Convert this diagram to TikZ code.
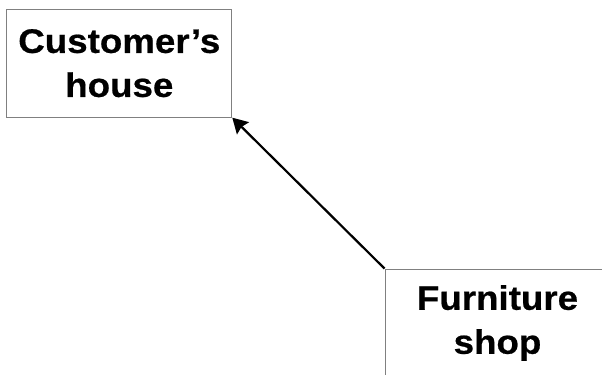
\documentclass[tikz,border=0pt]{standalone}
\usepackage{fontspec}
\setmainfont{Liberation Sans}
\newfontfamily\boxfont[FakeStretch=1.08, FakeBold=0.6]{Liberation Sans Bold}
\usetikzlibrary{arrows.meta}
\tikzset{
  place/.style={draw=black!50, line width=1bp, minimum width=225bp, minimum height=108bp,
    inner sep=0pt, align=center, font=\boxfont\fontsize{34bp}{44bp}\selectfont},
  trip/.style={line width=2.2bp, -{Stealth[length=15bp,width=17bp,inset=2bp]}}
}
\begin{document}
\begin{tikzpicture}[x=1bp,y=1bp]
\useasboundingbox (0,0) rectangle (602,374);
\clip (0,0) rectangle (602,374);
\node[place] (ch) at (119.3,310.8) {Customer’s\\house};
\node[place] (fs) at (497.5,51) {Furniture\\shop};
\draw[trip] (fs.north west) -- (ch.south east);
\end{tikzpicture}
\end{document}
